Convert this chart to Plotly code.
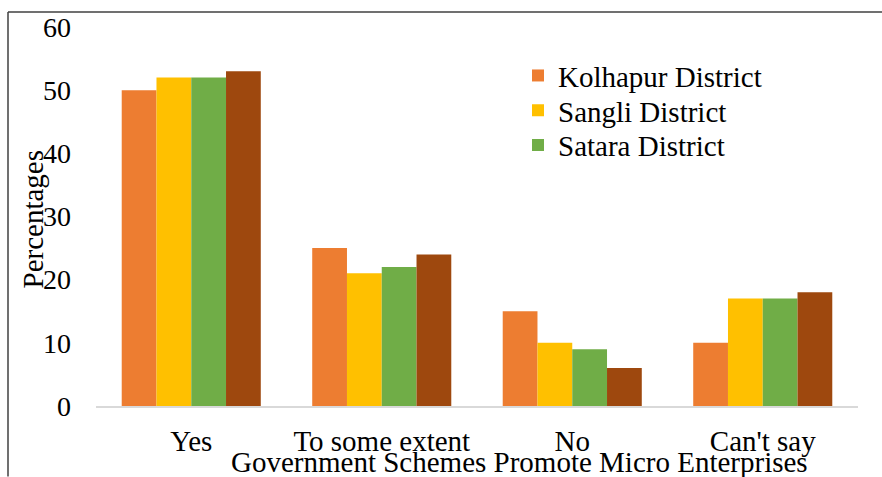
import plotly.graph_objects as go

categories = ["Yes", "To some extent", "No", "Can't say"]
series_names = ["Kolhapur District", "Sangli District", "Satara District", "Total"]
kolhapur = [50, 25, 15, 10]
sangli = [52, 21, 10, 17]
satara = [52, 22, 9, 17]
total = [53, 24, 6, 18]
colors = ["#ED7D31", "#FFC000", "#70AD47", "#9E480E"]
show_legend = [True, True, True, False]
legend_ids = ["legend", "legend2", "legend3", "legend"]
y_ticks = [0, 10, 20, 30, 40, 50, 60]

FONT = "Liberation Serif"
FS = 29

fig = go.Figure()
for name, vals, col, sl, lg in zip(series_names, [kolhapur, sangli, satara, total], colors,
                                   show_legend, legend_ids):
    fig.add_trace(go.Bar(x=categories, y=vals, name=name, marker=dict(color=col, line=dict(width=0)),
                         showlegend=sl, legend=lg))

W, H = 882, 477
L, R, T, B = 96, 24, 24, 71
pw, ph = W - L - R, H - T - B

def px_x(x):
    return (x - L) / pw

def px_y(y):
    return (H - B - y) / ph

def leg(ycenter):
    return dict(x=px_x(518), y=px_y(ycenter), xanchor="left", yanchor="middle",
                font=dict(size=FS, family=FONT), bgcolor="rgba(0,0,0,0)", itemwidth=30)

fig.update_layout(
    width=W, height=H,
    margin=dict(l=L, r=R, t=T, b=B),
    paper_bgcolor="white", plot_bgcolor="white",
    barmode="group", bargap=0.27, bargroupgap=0,
    font=dict(family=FONT, size=FS, color="black"),
    legend=leg(73),
    legend2=leg(108),
    legend3=leg(143),
    xaxis=dict(showline=True, linecolor="#D9D9D9", linewidth=2, showgrid=False,
               ticks="", tickfont=dict(size=FS, family=FONT), ticklabelstandoff=8),
    yaxis=dict(range=[0, 60], tickvals=y_ticks, showgrid=False, zeroline=False,
               showline=False, ticks="", tickfont=dict(size=FS - 1, family=FONT),
               ticklabelstandoff=24),
    annotations=[
        dict(text="Percentages", textangle=-90, x=px_x(33), y=px_y(217), xref="paper", yref="paper",
             showarrow=False, font=dict(size=FS, family=FONT), xanchor="center", yanchor="middle"),
        dict(text="Government Schemes Promote Micro Enterprises", x=px_x(519), y=px_y(462),
             xref="paper", yref="paper", showarrow=False, font=dict(size=FS, family=FONT),
             xanchor="center", yanchor="middle"),
    ],
    shapes=[
        dict(type="line", xref="paper", yref="paper", x0=px_x(8), x1=px_x(882), y0=px_y(9), y1=px_y(9),
             line=dict(color="#404040", width=1.5)),
        dict(type="line", xref="paper", yref="paper", x0=px_x(8), x1=px_x(8), y0=px_y(9), y1=px_y(477),
             line=dict(color="#404040", width=1.5)),
    ],
)

fig.write_html("out.html")
